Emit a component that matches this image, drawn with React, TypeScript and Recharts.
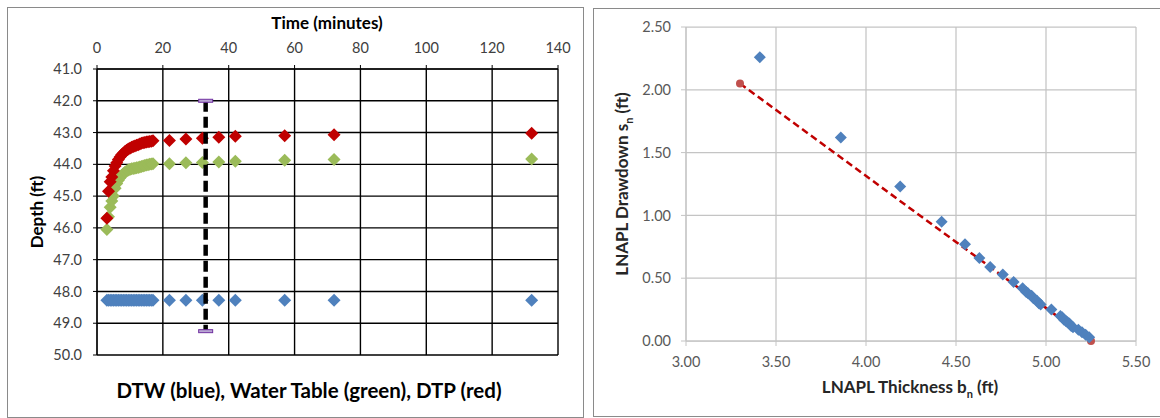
import React from 'react';
import { ScatterChart, Scatter, XAxis, YAxis, CartesianGrid } from 'recharts';

// Left chart: recovery after bail-down, time in minutes
const timeMin = [3, 3.5, 4, 4.5, 5, 5.5, 6, 6.5, 7, 7.5, 8, 8.5, 9, 9.5, 10, 10.5, 11, 11.5, 12, 12.5, 13, 13.5, 14, 14.5, 15, 15.5, 16, 16.5, 17, 22, 27, 32, 37, 42, 57, 72, 132];
const dtwFt = [48.28, 48.28, 48.28, 48.28, 48.28, 48.28, 48.28, 48.28, 48.28, 48.28, 48.28, 48.28, 48.28, 48.28, 48.28, 48.28, 48.28, 48.28, 48.28, 48.28, 48.28, 48.28, 48.28, 48.28, 48.28, 48.28, 48.28, 48.28, 48.28, 48.28, 48.28, 48.28, 48.28, 48.28, 48.28, 48.28, 48.28];
const waterTableFt = [46.05, 45.65, 45.35, 45.15, 45.0, 44.75, 44.6, 44.5, 44.42, 44.35, 44.3, 44.25, 44.21, 44.18, 44.16, 44.14, 44.13, 44.12, 44.11, 44.1, 44.08, 44.07, 44.05, 44.04, 44.02, 44.01, 44.0, 43.99, 43.98, 43.98, 43.95, 43.94, 43.93, 43.9, 43.87, 43.85, 43.83];
const dtpFt = [45.7, 44.85, 44.55, 44.4, 44.2, 44.05, 43.95, 43.85, 43.77, 43.7, 43.65, 43.6, 43.56, 43.52, 43.49, 43.46, 43.44, 43.42, 43.4, 43.38, 43.36, 43.34, 43.32, 43.31, 43.3, 43.29, 43.28, 43.27, 43.26, 43.25, 43.2, 43.18, 43.15, 43.12, 43.1, 43.07, 43.02];
const markerTime = [33, 33];
const markerDepth = [42.0, 49.25];
const timeTicks = [0, 20, 40, 60, 80, 100, 120, 140];
const depthTicks = [41, 42, 43, 44, 45, 46, 47, 48, 49, 50];

// Right chart: LNAPL thickness vs drawdown
const thicknessFt = [3.41, 3.86, 4.19, 4.42, 4.55, 4.63, 4.69, 4.76, 4.82, 4.87, 4.89, 4.9, 4.92, 4.93, 4.95, 4.96, 4.97, 5.03, 5.08, 5.09, 5.1, 5.11, 5.12, 5.13, 5.14, 5.15, 5.18, 5.2, 5.22, 5.24];
const drawdownFt = [2.26, 1.62, 1.23, 0.95, 0.77, 0.66, 0.59, 0.53, 0.47, 0.42, 0.39, 0.38, 0.36, 0.34, 0.32, 0.3, 0.29, 0.25, 0.2, 0.19, 0.17, 0.16, 0.15, 0.14, 0.12, 0.11, 0.09, 0.07, 0.05, 0.03];
const fitThickness = [3.3, 5.25];
const fitDrawdown = [2.05, 0.0];
const thicknessTicks = [3.0, 3.5, 4.0, 4.5, 5.0, 5.5];
const drawdownTicks = [0, 0.5, 1.0, 1.5, 2.0, 2.5];

const BLUE = '#4F81BD';
const GREEN = '#9BBB59';
const RED = '#C00000';

const pairs = (xs: number[], ys: number[]) => xs.map((x, i) => ({ x, y: ys[i] }));

const dtwData = pairs(timeMin, dtwFt);
const wtData = pairs(timeMin, waterTableFt);
const dtpData = pairs(timeMin, dtpFt);
const markerData = pairs(markerTime, markerDepth);
const lnaplData = pairs(thicknessFt, drawdownFt);
const fitData = pairs(fitThickness, fitDrawdown);

function diamond(color: string, r: number) {
    return (props: any) => {
        const { cx, cy } = props;
        if (cx == null || cy == null) return <g />;
        return <polygon points={`${cx},${cy - r} ${cx + r},${cy} ${cx},${cy + r} ${cx - r},${cy}`} fill={color} />;
    };
}

const capShape = (props: any) => {
    const { cx, cy } = props;
    if (cx == null || cy == null) return <g />;
    return <rect x={cx - 7} y={cy - 1.5} width={14} height={3} fill="#B9A6D3" stroke="#7030A0" strokeWidth={1} />;
};

const dotShape = (props: any) => {
    const { cx, cy } = props;
    if (cx == null || cy == null) return <g />;
    return <circle cx={cx} cy={cy} r={4} fill="#C0504D" />;
};

const titleStyle: React.CSSProperties = {
    position: 'absolute',
    whiteSpace: 'nowrap',
    fontWeight: 700,
    transform: 'translate(-50%, -50%)',
};

export default function App() {
    return (
        <div style={{ position: 'absolute', left: 0, top: 0, width: 1160, height: 418, overflow: 'hidden', background: '#fff', fontFamily: 'Lato, "Open Sans", sans-serif' }}>
            {/* panel frames */}
            <div style={{ position: 'absolute', left: 7, top: 7, width: 575, height: 409, border: '1px solid #8a8a8a' }} />
            <div style={{ position: 'absolute', left: 593, top: 8, width: 600, height: 407, border: '1px solid #8a8a8a' }} />

            {/* left chart */}
            <div style={{ position: 'absolute', left: 0, top: 0 }}>
                <ScatterChart width={590} height={418} margin={{ top: 0, right: 32, bottom: 63, left: 0 }}>
                    <CartesianGrid stroke="#000" strokeWidth={1.4} />
                    <XAxis
                        type="number"
                        dataKey="x"
                        orientation="top"
                        height={69}
                        domain={[0, 140]}
                        ticks={timeTicks}
                        interval={0}
                        tickSize={4}
                        tickMargin={12}
                        axisLine={{ stroke: '#000' }}
                        tickLine={{ stroke: '#000' }}
                        tick={{ fill: '#404040', fontSize: 14.5 }}
                    />
                    <YAxis
                        type="number"
                        dataKey="y"
                        reversed
                        width={97}
                        domain={[41, 50]}
                        ticks={depthTicks}
                        interval={0}
                        tickSize={4}
                        tickMargin={11}
                        tickFormatter={(v: number) => v.toFixed(1)}
                        axisLine={{ stroke: '#000' }}
                        tickLine={{ stroke: '#000' }}
                        tick={{ fill: '#404040', fontSize: 14.5 }}
                    />
                    <Scatter data={dtwData} shape={diamond(BLUE, 6.5)} isAnimationActive={false} />
                    <Scatter data={wtData} shape={diamond(GREEN, 6.5)} isAnimationActive={false} />
                    <Scatter data={dtpData} shape={diamond(RED, 6.5)} isAnimationActive={false} />
                    <Scatter
                        data={markerData}
                        shape={capShape}
                        line={{ stroke: '#000', strokeWidth: 4.5, strokeDasharray: '11 5' }}
                        isAnimationActive={false}
                    />
                </ScatterChart>
            </div>
            <div style={{ ...titleStyle, left: 327, top: 22, fontSize: 17, color: '#000' }}>Time (minutes)</div>
            <div style={{ ...titleStyle, left: 36, top: 212, fontSize: 17, color: '#000', transform: 'translate(-50%, -50%) rotate(-90deg)' }}>Depth (ft)</div>
            <div style={{ ...titleStyle, left: 309, top: 390, fontSize: 20.5, color: '#000' }}>DTW (blue), Water Table (green), DTP (red)</div>

            {/* right chart */}
            <div style={{ position: 'absolute', left: 590, top: 0 }}>
                <ScatterChart width={570} height={418} margin={{ top: 27, right: 24, bottom: 47, left: 0 }}>
                    <CartesianGrid stroke="#C4C4C4" strokeWidth={1.25} />
                    <XAxis
                        type="number"
                        dataKey="x"
                        height={30}
                        domain={[3, 5.5]}
                        ticks={thicknessTicks}
                        interval={0}
                        tickSize={5}
                        tickMargin={11}
                        tickFormatter={(v: number) => v.toFixed(2)}
                        axisLine={{ stroke: '#C4C4C4' }}
                        tickLine={{ stroke: '#C4C4C4' }}
                        tick={{ fill: '#595959', fontSize: 14.5 }}
                    />
                    <YAxis
                        type="number"
                        dataKey="y"
                        width={96}
                        domain={[0, 2.5]}
                        ticks={drawdownTicks}
                        interval={0}
                        tickSize={5}
                        tickMargin={10}
                        tickFormatter={(v: number) => v.toFixed(2)}
                        axisLine={{ stroke: '#C4C4C4' }}
                        tickLine={{ stroke: '#C4C4C4' }}
                        tick={{ fill: '#595959', fontSize: 14.5 }}
                    />
                    <Scatter
                        data={fitData}
                        shape={dotShape}
                        line={{ stroke: RED, strokeWidth: 2.5, strokeDasharray: '7 4' }}
                        isAnimationActive={false}
                    />
                    <Scatter data={lnaplData} shape={diamond(BLUE, 6)} isAnimationActive={false} />
                </ScatterChart>
            </div>
            <div style={{ ...titleStyle, left: 623, top: 184, fontSize: 17, color: '#262626', transform: 'translate(-50%, -50%) rotate(-90deg)' }}>
                LNAPL Drawdown s<sub style={{ fontSize: 11 }}>n</sub> (ft)
            </div>
            <div style={{ ...titleStyle, left: 910, top: 388, fontSize: 17, color: '#262626' }}>
                LNAPL Thickness b<sub style={{ fontSize: 11 }}>n</sub> (ft)
            </div>
        </div>
    );
}
